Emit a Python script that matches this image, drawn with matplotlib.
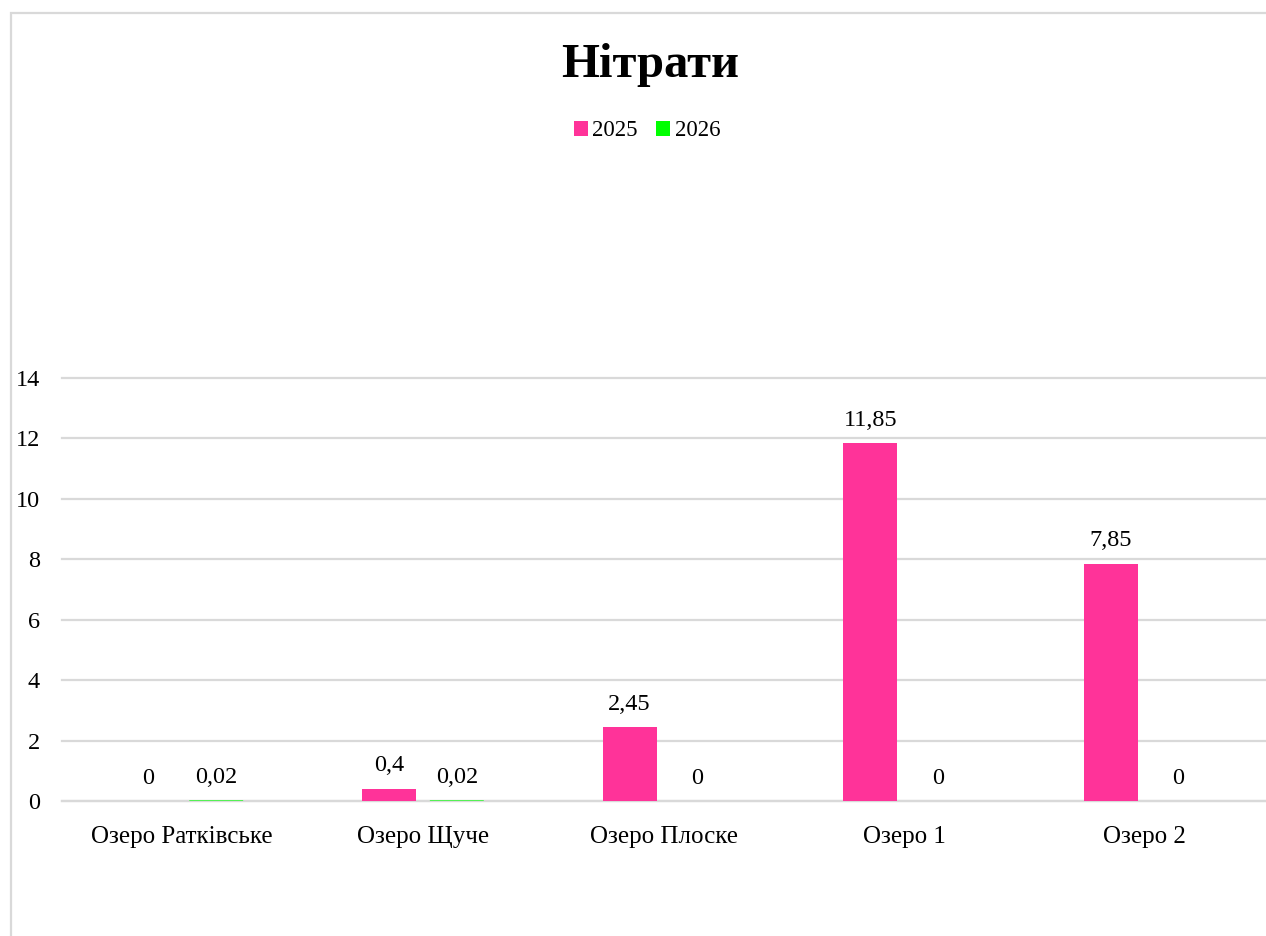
import matplotlib
matplotlib.use("Agg")
import matplotlib.pyplot as plt
from matplotlib.patches import Rectangle, Patch
import numpy as np

plt.rcParams['font.family'] = ['Liberation Serif', 'DejaVu Serif']

categories = ["Озеро Ратківське", "Озеро Щуче", "Озеро Плоске", "Озеро 1", "Озеро 2"]
series_names = ["2025", "2026"]
values_2025 = [0, 0.4, 2.45, 11.85, 7.85]
values_2026 = [0.02, 0.02, 0, 0, 0]
label_2025 = ["0", "0,4", "2,45", "11,85", "7,85"]
label_2026 = ["0,02", "0,02", "0", "0", "0"]
colors = ["#FF3399", "#00FF00"]
yticks = [0, 2, 4, 6, 8, 10, 12, 14]

fig = plt.figure(figsize=(12.66, 9.36), dpi=100)

# outer chart frame
fig.add_artist(Rectangle((10.5 / 1266, -0.05), 1.2, 1 - 13.5 / 936 + 0.05,
                         transform=fig.transFigure, fill=False,
                         edgecolor="#D9D9D9", linewidth=1.6, clip_on=False))

ax = fig.add_axes([62 / 1266, 135 / 936, (1265 - 62) / 1266, (801 - 378) / 936])

x = np.arange(len(categories))
width = 0.224
offset = 0.141
bars1 = ax.bar(x - offset, values_2025, width, color=colors[0], zorder=3)
bars2 = ax.bar(x + offset, values_2026, width, color=colors[1], zorder=3)
for b in bars2:
    b.set_snap(False)

for bars, labels in ((bars1, label_2025), (bars2, label_2026)):
    for b, lab in zip(bars, labels):
        ax.annotate(lab, (b.get_x() + b.get_width() / 2, b.get_height()),
                    xytext=(0, 16.5), textcoords="offset points",
                    ha="center", va="center", fontsize=17.5, color="#000000")

ax.set_xlim(-0.5, len(categories) - 0.5)
ax.set_ylim(0, 14)
ax.set_yticks(yticks)
ax.set_yticklabels([str(t) for t in yticks], fontsize=17.5)
ax.set_xticks(x)
ax.set_xticklabels(categories, fontsize=18)
ax.tick_params(axis="y", length=0, pad=16)
ax.tick_params(axis="x", length=0, pad=18)
ax.grid(axis="y", color="#D9D9D9", linewidth=1.6, zorder=0)
for gl in ax.get_ygridlines():
    gl.set_clip_on(False)
for s in ("top", "right", "left"):
    ax.spines[s].set_visible(False)
ax.spines["bottom"].set_color("#D9D9D9")
ax.spines["bottom"].set_linewidth(1.6)

fig.text(650 / 1266, 1 - 65 / 936, "Нітрати", ha="center", va="center",
         fontsize=35, fontweight="bold")

handles = [Patch(facecolor=c, edgecolor="none") for c in colors]
fig.legend(handles, series_names, loc="center", bbox_to_anchor=(647 / 1266, 1 - 131 / 936),
           ncol=2, frameon=False, fontsize=16.5, handlelength=0.6, handleheight=0.6,
           handletextpad=0.2, columnspacing=0.8)

fig.savefig("out.png", dpi=100)
